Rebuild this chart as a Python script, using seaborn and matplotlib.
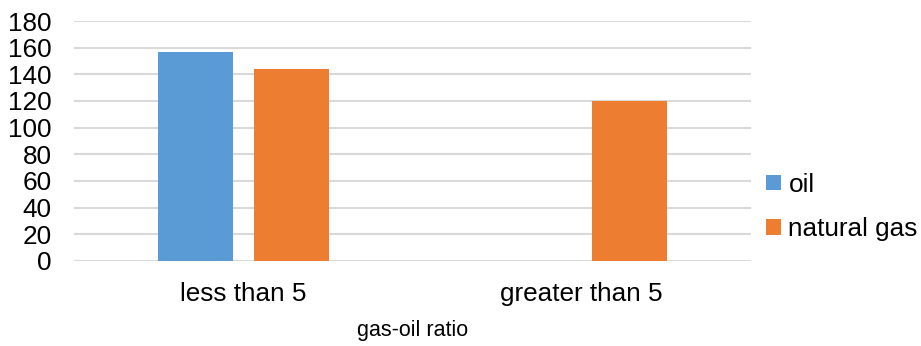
import matplotlib
matplotlib.use("Agg")
import matplotlib.pyplot as plt
import seaborn as sns
import pandas as pd

categories = ["less than 5", "greater than 5"]
series_names = ["oil", "natural gas"]
oil_values = [157, 0]
gas_values = [144, 120]
y_ticks = [0, 20, 40, 60, 80, 100, 120, 140, 160, 180]
colors = ["#5B9BD5", "#ED7D31"]

df = pd.DataFrame({
    "ratio": categories * 2,
    "fuel": [series_names[0]] * len(categories) + [series_names[1]] * len(categories),
    "value": oil_values + gas_values,
})

sns.set_theme(style="white")
plt.rcParams["font.family"] = ["Liberation Sans", "DejaVu Sans"]
plt.rcParams["text.color"] = "#000000"

fig = plt.figure(figsize=(9.21, 3.46), dpi=100)
ax = fig.add_axes([0.0803, 0.2457, 0.8351 - 0.0803 - 0.02, 0.9393 - 0.2457])

sns.barplot(data=df, x="ratio", y="value", hue="fuel", order=categories,
            hue_order=series_names, palette=colors, width=0.567, gap=0.22,
            saturation=1, edgecolor="none", ax=ax, legend=True)

ax.set_xlim(-0.5, 1.5)
ax.set_ylim(0, 180)
ax.set_yticks(y_ticks)
ax.set_yticklabels([str(t) for t in y_ticks])
ax.yaxis.grid(True, color="#D9D9D9", linewidth=1.5)
ax.set_axisbelow(True)
for s in ax.spines.values():
    s.set_visible(False)
ax.tick_params(axis="y", length=0, pad=16, labelsize=18.8, labelcolor="#000000")
ax.tick_params(axis="x", length=0, pad=15, labelsize=18.8, labelcolor="#000000")
ax.set_ylabel("")
ax.set_xlabel("gas-oil ratio", fontsize=15.5, color="#000000", labelpad=10)

handles, labels = ax.get_legend_handles_labels()
ax.legend(handles, labels, loc="center left", bbox_to_anchor=(0.832, 0.402),
          bbox_transform=fig.transFigure, frameon=False, fontsize=18.8,
          labelcolor="#000000",
          handlelength=0.55, handleheight=0.55, handletextpad=0.3,
          labelspacing=0.78, borderpad=0, borderaxespad=0)

fig.savefig("out.png", dpi=100)
